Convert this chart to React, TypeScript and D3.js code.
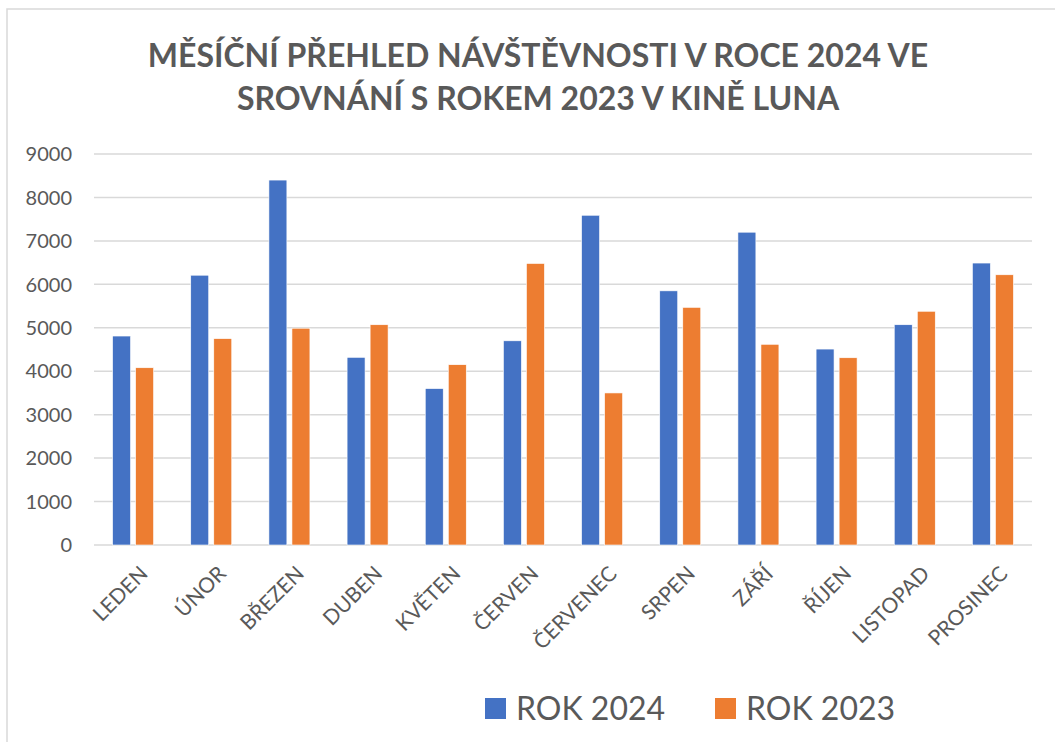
import React, { useEffect, useRef } from 'react';
import * as d3 from 'd3';

// data
const months = ['LEDEN', 'ÚNOR', 'BŘEZEN', 'DUBEN', 'KVĚTEN', 'ČERVEN', 'ČERVENEC', 'SRPEN', 'ZÁŘÍ', 'ŘÍJEN', 'LISTOPAD', 'PROSINEC'];
const rok2024 = [4810, 6210, 8400, 4320, 3600, 4700, 7590, 5850, 7200, 4510, 5070, 6490];
const rok2023 = [4080, 4750, 4990, 5070, 4150, 6480, 3500, 5470, 4620, 4310, 5380, 6220];
const seriesNames = ['ROK 2024', 'ROK 2023'];
const seriesColors = ['#4472C4', '#ED7D31'];
const yTicks = [0, 1000, 2000, 3000, 4000, 5000, 6000, 7000, 8000, 9000];
const titleLines = ['MĚSÍČNÍ PŘEHLED NÁVŠTĚVNOSTI V ROCE 2024 VE', 'SROVNÁNÍ S ROKEM 2023 V KINĚ LUNA'];

const W = 1055;
const H = 742;
const FONT = 'Lato, "Open Sans", sans-serif';
const TEXT = '#595959';

export default function App() {
    const ref = useRef<SVGSVGElement>(null);

    useEffect(() => {
        const svg = d3.select(ref.current);
        svg.selectAll('*').remove();

        // chart frame (cropped on the right and bottom)
        svg.append('rect')
            .attr('x', 7).attr('y', 9)
            .attr('width', W + 40).attr('height', H + 40)
            .attr('fill', '#fff')
            .attr('stroke', '#d9d9d9')
            .attr('stroke-width', 1.5);

        // title
        svg.append('g').selectAll('text')
            .data(titleLines)
            .join('text')
            .attr('x', 538)
            .attr('y', (d, i) => 67 + i * 43)
            .attr('text-anchor', 'middle')
            .attr('font-family', FONT)
            .attr('font-weight', 'bold')
            .attr('font-size', 32)
            .attr('fill', TEXT)
            .text(d => d);

        const x = d3.scaleBand().domain(months).range([94, 1032]).padding(0);
        const xs = d3.scaleBand().domain(seriesNames).range([-20.5, 20.5]).paddingInner(0.22);
        const y = d3.scaleLinear().domain([0, 9000]).range([545, 154]);

        // gridlines
        svg.append('g').selectAll('line')
            .data(yTicks)
            .join('line')
            .attr('x1', 94).attr('x2', 1032)
            .attr('y1', d => y(d)).attr('y2', d => y(d))
            .attr('stroke', '#d9d9d9')
            .attr('stroke-width', 1.5);

        // y labels
        svg.append('g').selectAll('text')
            .data(yTicks)
            .join('text')
            .attr('x', 72)
            .attr('y', d => y(d))
            .attr('dy', '0.36em')
            .attr('text-anchor', 'end')
            .attr('font-family', FONT)
            .attr('font-size', 20)
            .attr('fill', TEXT)
            .text(d => d);

        // bars
        const series = [rok2024, rok2023];
        series.forEach((vals, si) => {
            svg.append('g').selectAll('rect')
                .data(vals)
                .join('rect')
                .attr('x', (d, i) => x(months[i])! + x.bandwidth() / 2 + xs(seriesNames[si])!)
                .attr('y', d => y(d))
                .attr('width', xs.bandwidth())
                .attr('height', d => y(0) - y(d))
                .attr('fill', seriesColors[si])
                .attr('stroke', '#fff')
                .attr('stroke-width', 0.6);
        });

        // category labels, rotated
        svg.append('g').selectAll('text')
            .data(months)
            .join('text')
            .attr('transform', d => 'translate(' + (x(d)! + x.bandwidth() / 2 + 16) + ',575) rotate(-45)')
            .attr('text-anchor', 'end')
            .attr('font-family', FONT)
            .attr('font-size', 21)
            .attr('fill', TEXT)
            .text(d => d);

        // legend
        const legendX = [485, 715];
        const legend = svg.append('g').selectAll('g')
            .data(seriesNames)
            .join('g')
            .attr('transform', (d, i) => 'translate(' + legendX[i] + ',698)');
        legend.append('rect')
            .attr('width', 21).attr('height', 21)
            .attr('fill', (d, i) => seriesColors[i]);
        legend.append('text')
            .attr('x', 31).attr('y', 22)
            .attr('font-family', FONT)
            .attr('font-size', 32)
            .attr('fill', TEXT)
            .text(d => d);
    }, []);

    return (
        <svg ref={ref} width={W} height={H} style={{ position: 'absolute', left: 0, top: 0, background: '#fff' }} />
    );
}
